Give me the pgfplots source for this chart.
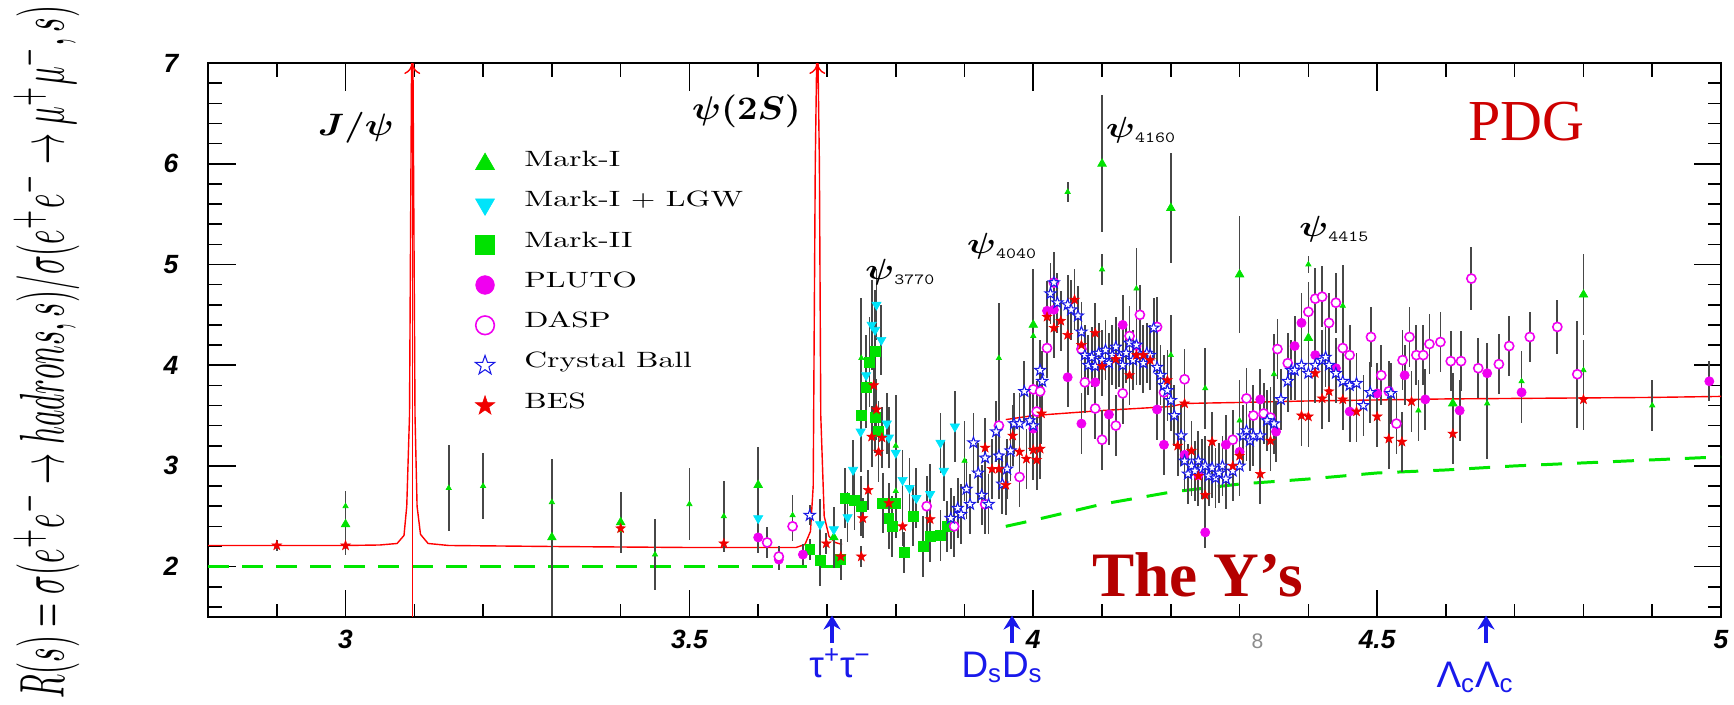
\documentclass[border=0pt]{standalone}
\usepackage{pgfplots}
\pgfplotsset{compat=1.18}
\usepackage{pgfplotstable}
\usepackage{graphicx}
\usepackage{fontspec}
\usepackage{bm}
\usetikzlibrary{arrows.meta}
\setsansfont{Liberation Sans}
\newfontfamily\timesf{Liberation Serif}

\definecolor{mkgreen}{RGB}{0,225,0}
\definecolor{mkcyan}{RGB}{0,228,250}
\definecolor{mkmag}{RGB}{240,0,240}
\definecolor{mkblue}{RGB}{25,25,230}
\definecolor{mkred}{RGB}{240,0,0}
\definecolor{pdgred}{RGB}{205,0,0}
\definecolor{yred}{RGB}{180,0,0}
\definecolor{dgreen}{RGB}{0,230,0}
\definecolor{arrblue}{RGB}{25,25,235}

\pgfdeclareplotmark{pstar}{%
 \pgfpathmoveto{\pgfpointpolar{90}{\pgfplotmarksize}}%
 \pgfpathlineto{\pgfpointpolar{126}{0.4\pgfplotmarksize}}%
 \pgfpathlineto{\pgfpointpolar{162}{\pgfplotmarksize}}%
 \pgfpathlineto{\pgfpointpolar{198}{0.4\pgfplotmarksize}}%
 \pgfpathlineto{\pgfpointpolar{234}{\pgfplotmarksize}}%
 \pgfpathlineto{\pgfpointpolar{270}{0.4\pgfplotmarksize}}%
 \pgfpathlineto{\pgfpointpolar{306}{\pgfplotmarksize}}%
 \pgfpathlineto{\pgfpointpolar{342}{0.4\pgfplotmarksize}}%
 \pgfpathlineto{\pgfpointpolar{18}{\pgfplotmarksize}}%
 \pgfpathlineto{\pgfpointpolar{54}{0.4\pgfplotmarksize}}%
 \pgfpathclose
 \pgfusepathqfillstroke}

\pgfplotsset{
 ebar/.style={forget plot, draw=none, mark=none,
   error bars/.cd, y dir=both, y explicit, error mark=none,
   error bar style={draw=black!72, line width=1pt}},
 limg/.style={legend image code/.code={\path (0cm,0cm) (0.98cm,0cm);
   \draw[##1,mark size=#1] plot coordinates {(0.3cm,0cm)};}},
}

\newcommand{\psisub}[1]{\scalebox{1}[0.8]{\fontsize{22}{24}\selectfont$\bm{\psi}$\raisebox{-0.12cm}{\fontsize{11}{12}\selectfont\ttfamily #1}}}
\newcommand{\lt}[1]{\scalebox{1.8}[1.26]{\fontsize{10}{12}\selectfont #1}}

\pgfplotstableread[row sep=\\]{x y e\\
3.00 2.42 0.30\\ 3.30 2.29 0.78\\ 3.40 2.44 0.30\\ 3.60 2.81 0.38\\ 3.71 2.29 0.30\\
4.00 4.40 0.55\\ 4.10 6.00 0.68\\ 4.20 5.56 0.55\\ 4.30 4.90 0.58\\ 4.40 4.27 0.30\\
4.61 3.62 0.30\\ 4.80 4.70 0.40\\}\mIbig

\pgfplotstableread[row sep=\\]{x y e\\
3.00 2.60 0.15\\ 3.15 2.78 0.43\\ 3.20 2.80 0.33\\ 3.30 2.64 0.10\\ 3.40 2.36 0.15\\
3.45 2.12 0.35\\ 3.50 2.62 0.36\\ 3.55 2.50 0.35\\ 3.65 2.51 0.20\\ 3.75 4.07 0.60\\
3.80 3.20 0.50\\ 3.80 2.75 0.40\\ 3.90 3.05 0.40\\ 3.95 4.07 0.55\\ 4.00 4.29 0.40\\
4.05 5.72 0.10\\ 4.10 4.95 0.15\\ 4.15 4.76 0.40\\ 4.20 4.10 0.40\\ 4.25 3.77 0.40\\
4.30 3.45 0.40\\ 4.35 3.91 0.40\\ 4.40 5.00 0.08\\ 4.45 4.59 0.40\\ 4.56 3.55 0.30\\
4.66 3.62 0.55\\ 4.71 3.84 0.30\\ 4.80 3.95 0.30\\ 4.90 3.60 0.25\\}\mIsmall

\pgfplotstableread[row sep=\\]{x y e\\
3.600 2.48 0.20\\ 3.690 2.42 0.25\\ 3.710 2.37 0.20\\ 3.730 2.49 0.25\\ 3.738 2.96 0.30\\
3.749 3.34 0.40\\ 3.757 3.90 0.40\\ 3.765 4.40 0.45\\ 3.772 4.60 0.35\\ 3.770 4.35 0.40\\
3.779 4.25 0.35\\ 3.787 3.42 0.30\\ 3.790 3.28 0.30\\ 3.800 3.13 0.35\\ 3.810 2.86 0.30\\
3.820 2.78 0.30\\ 3.830 2.68 0.30\\ 3.850 2.72 0.30\\ 3.865 3.23 0.30\\ 3.870 2.95 0.30\\
3.886 3.39 0.35\\}\lgw

\pgfplotstableread[row sep=\\]{x y e\\
3.675 2.17 0.10\\ 3.690 2.06 0.25\\ 3.720 2.07 0.20\\ 3.726 2.68 0.30\\ 3.740 2.66 0.30\\
3.750 2.60 0.30\\ 3.750 3.50 0.40\\ 3.757 3.78 0.40\\ 3.762 4.03 0.45\\ 3.770 4.14 0.40\\
3.770 3.48 0.35\\ 3.775 3.34 0.30\\ 3.781 2.63 0.30\\ 3.800 2.63 0.35\\ 3.790 2.48 0.30\\
3.795 2.40 0.30\\ 3.812 2.14 0.20\\ 3.825 2.50 0.30\\ 3.840 2.20 0.30\\ 3.850 2.30 0.25\\
3.865 2.31 0.25\\ 3.875 2.40 0.25\\}\mII

\pgfplotstableread[row sep=\\]{x y e\\
3.600 2.29 0.15\\ 3.630 2.07 0.10\\ 3.665 2.12 0.10\\ 4.000 3.37 0.30\\ 4.020 4.54 0.30\\
4.030 4.55 0.30\\ 4.050 3.88 0.30\\ 4.070 3.42 0.30\\ 4.090 3.83 0.30\\ 4.110 3.51 0.30\\
4.130 4.40 0.30\\ 4.150 4.19 0.30\\ 4.180 3.56 0.30\\ 4.190 3.21 0.30\\ 4.220 3.11 0.30\\
4.240 2.91 0.30\\ 4.250 2.34 0.15\\ 4.280 3.21 0.30\\ 4.300 3.14 0.30\\ 4.330 3.66 0.30\\
4.353 3.34 0.30\\ 4.380 4.19 0.30\\ 4.390 4.42 0.30\\ 4.410 4.10 0.30\\ 4.440 3.97 0.30\\
4.460 3.54 0.30\\ 4.500 3.72 0.30\\ 4.540 3.90 0.30\\ 4.570 3.66 0.30\\ 4.620 3.55 0.30\\
4.660 3.92 0.30\\ 4.710 3.73 0.30\\ 4.983 3.84 0.20\\}\pluto

\pgfplotstableread[row sep=\\]{x y e\\
3.613 2.24 0.15\\ 3.630 2.10 0.10\\ 3.650 2.40 0.15\\ 3.845 2.60 0.30\\ 3.885 2.40 0.30\\
3.930 2.62 0.30\\ 3.950 3.40 0.30\\ 3.980 2.89 0.30\\ 4.000 3.76 0.30\\ 4.005 3.54 0.30\\
4.010 3.74 0.30\\ 4.020 4.17 0.30\\ 4.030 4.82 0.30\\ 4.070 4.16 0.30\\ 4.075 3.83 0.30\\
4.090 3.57 0.30\\ 4.100 3.26 0.30\\ 4.120 3.40 0.30\\ 4.130 3.72 0.30\\ 4.140 4.29 0.30\\
4.155 4.50 0.30\\ 4.180 4.38 0.30\\ 4.190 3.73 0.30\\ 4.220 3.86 0.30\\ 4.290 3.26 0.30\\
4.310 3.67 0.30\\ 4.320 3.50 0.30\\ 4.335 3.52 0.30\\ 4.345 3.48 0.30\\ 4.355 4.16 0.30\\
4.370 4.02 0.30\\ 4.400 4.53 0.30\\ 4.410 4.66 0.30\\ 4.420 4.68 0.30\\ 4.430 4.42 0.30\\
4.440 4.62 0.30\\ 4.450 4.17 0.30\\ 4.460 4.10 0.30\\ 4.491 4.28 0.30\\ 4.506 3.90 0.30\\
4.517 3.74 0.30\\ 4.528 3.42 0.30\\ 4.537 4.05 0.30\\ 4.547 4.28 0.30\\ 4.557 4.10 0.30\\
4.567 4.10 0.30\\ 4.576 4.21 0.30\\ 4.592 4.23 0.30\\ 4.607 4.04 0.30\\ 4.622 4.04 0.30\\
4.637 4.86 0.31\\ 4.647 3.97 0.30\\ 4.677 4.01 0.30\\ 4.692 4.19 0.30\\ 4.722 4.28 0.25\\
4.762 4.38 0.27\\ 4.791 3.91 0.53\\}\dasp

\pgfplotstableread[row sep=\\]{x y e\\
3.675 2.51 0.10\\ 3.880 2.48 0.30\\ 3.890 2.58 0.30\\ 3.895 2.52 0.30\\ 3.903 2.77 0.30\\
3.908 2.62 0.30\\ 3.913 3.23 0.30\\ 3.920 2.93 0.30\\ 3.925 2.71 0.30\\ 3.930 3.08 0.30\\
3.935 2.62 0.30\\ 3.946 3.34 0.30\\ 3.950 3.10 0.30\\ 3.955 2.82 0.30\\ 3.962 2.97 0.30\\
3.967 3.15 0.30\\ 3.972 3.42 0.30\\ 3.980 3.42 0.30\\ 3.987 3.74 0.30\\ 3.995 3.45 0.30\\
4.000 3.40 0.30\\ 4.010 3.95 0.30\\ 4.013 3.84 0.30\\ 4.025 4.71 0.30\\ 4.030 4.82 0.30\\
4.035 4.62 0.30\\ 4.050 4.60 0.30\\ 4.055 4.55 0.30\\ 4.065 4.49 0.30\\ 4.070 4.33 0.30\\
4.075 4.10 0.30\\ 4.080 4.00 0.30\\ 4.085 4.08 0.30\\ 4.090 3.99 0.30\\ 4.095 4.12 0.30\\
4.100 4.05 0.30\\ 4.105 4.15 0.30\\ 4.110 4.02 0.30\\ 4.115 4.10 0.30\\ 4.120 4.18 0.30\\
4.125 4.08 0.30\\ 4.130 4.00 0.30\\ 4.135 4.12 0.30\\ 4.140 4.22 0.30\\ 4.145 4.05 0.30\\
4.150 4.20 0.30\\ 4.155 4.10 0.30\\ 4.160 4.02 0.30\\ 4.165 4.12 0.30\\ 4.170 4.10 0.30\\
4.175 4.37 0.30\\ 4.180 3.98 0.30\\ 4.185 3.90 0.30\\ 4.190 3.80 0.30\\ 4.195 3.75 0.30\\
4.200 3.65 0.30\\ 4.205 3.50 0.30\\ 4.215 3.30 0.30\\ 4.220 3.05 0.30\\ 4.225 2.92 0.30\\
4.230 3.00 0.30\\ 4.235 2.95 0.30\\ 4.240 3.05 0.30\\ 4.245 2.97 0.30\\ 4.250 3.00 0.30\\
4.255 2.90 0.30\\ 4.260 2.98 0.30\\ 4.265 2.88 0.30\\ 4.270 2.93 0.30\\ 4.275 3.00 0.30\\
4.280 2.87 0.30\\ 4.290 2.95 0.30\\ 4.300 3.00 0.30\\ 4.305 3.30 0.30\\ 4.310 3.35 0.30\\
4.315 3.25 0.30\\ 4.320 3.30 0.30\\ 4.330 3.30 0.30\\ 4.340 3.45 0.30\\ 4.350 3.42 0.30\\
4.360 3.66 0.30\\ 4.370 3.84 0.30\\ 4.375 3.95 0.30\\ 4.380 3.95 0.30\\ 4.390 4.00 0.30\\
4.400 3.92 0.30\\ 4.410 4.00 0.30\\ 4.420 4.05 0.30\\ 4.425 4.08 0.30\\ 4.430 4.00 0.30\\
4.440 3.92 0.30\\ 4.450 3.84 0.30\\ 4.460 3.80 0.30\\ 4.470 3.82 0.30\\ 4.480 3.60 0.30\\
4.490 3.73 0.30\\ 4.520 3.72 0.30\\}\cball

\pgfplotstableread[row sep=\\]{x y e\\
2.900 2.21 0.05\\ 3.000 2.21 0.05\\ 3.400 2.38 0.05\\ 3.550 2.23 0.05\\ 3.699 2.23 0.10\\
3.720 2.10 0.10\\ 3.750 2.10 0.10\\ 3.752 2.48 0.20\\ 3.760 2.76 0.20\\ 3.768 3.80 0.30\\
3.772 3.56 0.30\\ 3.765 3.29 0.30\\ 3.780 3.28 0.30\\ 3.775 3.14 0.30\\ 3.790 2.63 0.20\\
3.810 2.40 0.20\\ 3.850 2.47 0.20\\ 3.930 3.18 0.30\\ 3.940 2.97 0.30\\ 3.950 2.97 0.30\\
3.960 2.81 0.30\\ 3.970 3.30 0.30\\ 3.980 3.14 0.30\\ 3.990 3.07 0.30\\ 4.000 3.16 0.30\\
4.005 3.06 0.30\\ 4.010 3.17 0.30\\ 4.012 3.52 0.30\\ 4.020 4.48 0.30\\ 4.030 4.37 0.30\\
4.040 4.44 0.30\\ 4.050 4.30 0.30\\ 4.060 4.65 0.30\\ 4.070 4.20 0.30\\ 4.090 4.32 0.30\\
4.100 3.99 0.30\\ 4.120 4.06 0.30\\ 4.140 3.90 0.30\\ 4.150 4.10 0.30\\ 4.160 4.10 0.30\\
4.170 4.05 0.30\\ 4.195 3.85 0.30\\ 4.210 3.20 0.30\\ 4.220 3.62 0.30\\ 4.230 3.15 0.30\\
4.240 2.90 0.30\\ 4.250 2.71 0.30\\ 4.260 3.24 0.30\\ 4.290 3.00 0.30\\ 4.300 3.10 0.30\\
4.330 2.92 0.30\\ 4.345 3.25 0.30\\ 4.390 3.50 0.30\\ 4.400 3.49 0.30\\ 4.410 3.92 0.30\\
4.420 3.67 0.30\\ 4.430 3.74 0.30\\ 4.450 3.66 0.30\\ 4.470 3.54 0.30\\ 4.500 3.49 0.30\\
4.517 3.27 0.30\\ 4.536 3.24 0.30\\ 4.550 3.64 0.30\\ 4.610 3.32 0.30\\ 4.800 3.66 0.30\\}\bes

\pgfplotstableread[row sep=\\]{x y\\
2.80 2.21\\ 2.90 2.21\\ 3.00 2.21\\ 3.05 2.215\\ 3.075 2.23\\ 3.085 2.31\\ 3.089 2.6\\
3.093 3.5\\ 3.096 7.0\\ 3.098 7.0\\ 3.101 3.5\\ 3.104 2.6\\ 3.109 2.32\\ 3.12 2.23\\
3.15 2.21\\ 3.30 2.20\\ 3.50 2.19\\ 3.60 2.19\\ 3.655 2.19\\ 3.668 2.22\\ 3.676 2.35\\
3.680 2.8\\ 3.683 6.0\\ 3.685 7.0\\ 3.687 7.0\\ 3.689 6.0\\ 3.691 3.5\\ 3.696 2.5\\
3.703 2.3\\ 3.712 2.24\\ 3.722 2.22\\}\fitA

\pgfplotstableread[row sep=\\]{x y\\
3.96 3.46\\ 4.00 3.50\\ 4.10 3.55\\ 4.20 3.59\\ 4.22 3.62\\ 4.30 3.63\\ 4.40 3.645\\
4.50 3.655\\ 4.60 3.665\\ 4.70 3.67\\ 4.80 3.675\\ 4.90 3.68\\ 5.00 3.69\\}\fitB

\pgfplotstableread[row sep=\\]{x y\\
2.80 2.0\\ 3.72 2.0\\}\qpmA

\pgfplotstableread[row sep=\\]{x y\\
3.96 2.40\\ 4.00 2.46\\ 4.10 2.62\\ 4.20 2.74\\ 4.30 2.82\\ 4.40 2.87\\ 4.50 2.93\\
4.60 2.96\\ 4.70 3.00\\ 4.80 3.03\\ 4.90 3.06\\ 5.00 3.09\\}\qpmB

\begin{document}
\begin{tikzpicture}
\path[use as bounding box] (-4.16,-1.74) rectangle (30.52,12.34);
\begin{axis}[
  scale only axis, width=30.26cm, height=11.08cm,
  xmin=2.8, xmax=5.0, ymin=1.5, ymax=7,
  clip mode=individual,
  axis line style={line width=1.6pt},
  xtick={3,3.5,4,4.5,5},
  minor xtick={2.9,3.1,3.2,3.3,3.4,3.6,3.7,3.8,3.9,4.1,4.2,4.3,4.4,4.6,4.7,4.8,4.9},
  ytick={2,3,4,5,6,7},
  minor ytick={1.6,1.8,2.2,2.4,2.6,2.8,3.2,3.4,3.6,3.8,4.2,4.4,4.6,4.8,5.2,5.4,5.6,5.8,6.2,6.4,6.6,6.8},
  major tick length=0.55cm, minor tick length=0.27cm,
  tick style={line width=0.9pt, black},
  /pgf/number format/assume math mode=true,
  ticklabel style={font=\sffamily\bfseries\itshape\fontsize{15}{15}\selectfont},
  xticklabel style={yshift=-0.14cm},
  yticklabel style={xshift=-0.47cm},
  legend cell align=left,
  legend style={at={(axis cs:3.18,6.20)}, anchor=north west, draw=none, fill=none,
    inner sep=0pt, column sep=0pt, row sep=0pt,
    font=\fontsize{10}{12}\selectfont,
    nodes={inner xsep=0.1cm, inner ysep=0pt, text height=0.45cm, text depth=0.356cm}},
]
% fit curves
\addplot[forget plot, dgreen, line width=1.7pt, dash pattern=on 0.42cm off 0.26cm] table {\qpmA};
\addplot[forget plot, dgreen, line width=1.7pt, dash pattern=on 0.42cm off 0.3cm] table {\qpmB};
\addplot[forget plot, red, line width=0.8pt] table {\fitA};
\addplot[forget plot, red, line width=0.8pt] table {\fitB};
% error bars
\addplot[ebar] table[x=x,y=y,y error=e] {\mIbig};
\addplot[ebar] table[x=x,y=y,y error=e] {\mIsmall};
\addplot[ebar] table[x=x,y=y,y error=e] {\lgw};
\addplot[ebar] table[x=x,y=y,y error=e] {\mII};
\addplot[ebar] table[x=x,y=y,y error=e] {\pluto};
\addplot[ebar] table[x=x,y=y,y error=e] {\dasp};
\addplot[ebar] table[x=x,y=y,y error=e] {\cball};
\addplot[ebar] table[x=x,y=y,y error=e] {\bes};
% markers
\addplot[forget plot, only marks, mark=triangle*, mark size=1.7pt, color=mkgreen] table[x=x,y=y] {\mIsmall};
\addplot[only marks, mark=triangle*, mark size=2.8pt, color=mkgreen, limg=6.2pt] table[x=x,y=y] {\mIbig};
\addlegendentry{\lt{Mark-I}}
\addplot[only marks, mark=triangle*, mark size=3pt, color=mkcyan, mark options={rotate=180}, limg=6.2pt] table[x=x,y=y] {\lgw};
\addlegendentry{\lt{Mark-I + LGW}}
\addplot[only marks, mark=square*, mark size=2.8pt, color=mkgreen, limg=5.3pt] table[x=x,y=y] {\mII};
\addlegendentry{\lt{Mark-II}}
\addplot[only marks, mark=*, mark size=2.6pt, color=mkmag, limg=5.3pt] table[x=x,y=y] {\pluto};
\addlegendentry{\lt{PLUTO}}
\addplot[only marks, mark=*, mark size=2.6pt, color=mkmag, mark options={fill=white, line width=0.9pt}, limg=5.3pt] table[x=x,y=y] {\dasp};
\addlegendentry{\lt{DASP}}
\addplot[only marks, mark=pstar, mark size=3.3pt, color=mkblue, mark options={fill=white, line width=0.6pt}, limg=5.8pt] table[x=x,y=y] {\cball};
\addlegendentry{\lt{Crystal Ball}}
\addplot[only marks, mark=pstar, mark size=2.9pt, color=mkred, mark options={line width=0.3pt}, limg=5.8pt] table[x=x,y=y] {\bes};
\addlegendentry{\lt{BES}}
\end{axis}
% annotations drawn in the axis coordinate frame (origin = lower-left of the frame)
\begin{scope}[x=13.7545cm, y=2.01455cm, shift={(-2.8*13.7545cm,-1.5*2.01455cm)}]
\draw[red, line width=0.4pt] (3.097,1.5) -- (3.097,7);
\draw[red, line width=0.8pt, -{To[length=0.22cm,width=0.32cm]}] (3.097,6.8) -- (3.097,7.0);
\draw[red, line width=0.8pt, -{To[length=0.22cm,width=0.32cm]}] (3.686,6.8) -- (3.686,7.0);
\node at (3.015,6.36) {\scalebox{1}[0.85]{\fontsize{22}{24}\selectfont$\bm{J/\psi}$}};
\node at (3.583,6.52) {\scalebox{1}[0.9]{\fontsize{22}{24}\selectfont$\bm{\psi(2S)}$}};
\node at (3.806,4.92) {\psisub{3770}};
\node at (3.954,5.18) {\psisub{4040}};
\node at (4.156,6.33) {\psisub{4160}};
\node at (4.437,5.35) {\psisub{4415}};
\node[text=pdgred] at (4.717,6.415) {\timesf\fontsize{33}{36}\selectfont PDG};
\node[text=yred] at (4.239,1.92) {\timesf\bfseries\fontsize{36}{40}\selectfont The Y’s};
\end{scope}
% y label
\node[rotate=90, inner sep=0pt] at (-3.23,5.3) {\resizebox*{13.85cm}{1.32cm}{$R(s)=\sigma(e^{+}e^{-}\rightarrow hadrons,s)/\sigma(e^{+}e^{-}\rightarrow\mu^{+}\mu^{-},s)$}};
% threshold arrows
\foreach \xx in {12.48,16.08,25.56}{
  \draw[arrblue, line width=0.085cm, -{Stealth[length=0.28cm,width=0.34cm]}] (\xx,-0.52) -- (\xx,0.03);
}
\node[anchor=base, text=arrblue, font=\sffamily\fontsize{21}{21}\selectfont] at (12.64,-1.2) {τ\textsuperscript{+}τ\textsuperscript{−}};
\node[anchor=base, text=arrblue, font=\sffamily\fontsize{21}{21}\selectfont] at (15.88,-1.2) {D\textsubscript{s}D\textsubscript{s}};
\node[anchor=base, text=arrblue, font=\sffamily\fontsize{21}{21}\selectfont] at (25.34,-1.4) {Λ\textsubscript{c}Λ\textsubscript{c}};
\node[text=black!45, font=\sffamily\fontsize{12}{12}\selectfont] at (20.99,-0.49) {8};
\end{tikzpicture}
\end{document}
